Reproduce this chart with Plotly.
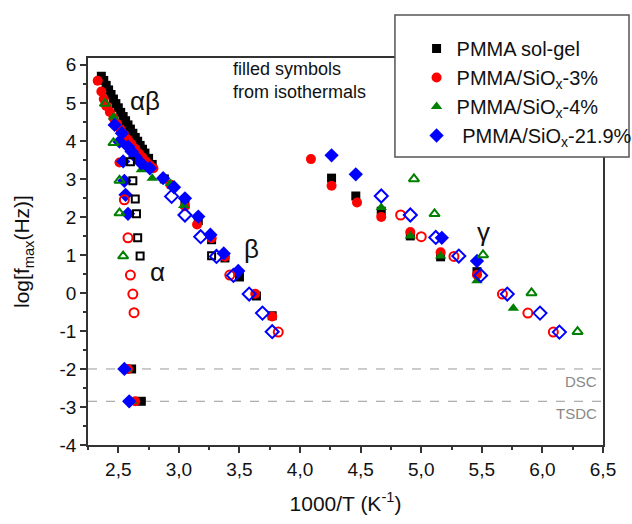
import plotly.graph_objects as go

# ---------------- data ----------------
# PMMA sol-gel (black squares)
blk_f_x = [2.36, 2.38, 2.40, 2.42, 2.44, 2.46, 2.48, 2.50, 2.52, 2.54, 2.56, 2.58, 2.60, 2.62, 2.64,
           2.66, 2.68, 2.70, 2.72, 2.75, 2.78, 2.88, 3.05, 3.16, 3.27, 3.38, 3.50, 3.64, 3.77,
           4.26, 4.46, 4.67, 4.91, 5.16, 5.46, 2.61, 2.69]
blk_f_y = [5.70, 5.59, 5.46, 5.34, 5.22, 5.10, 4.98, 4.87, 4.75, 4.64, 4.53, 4.42, 4.31, 4.20, 4.09,
           3.99, 3.88, 3.78, 3.68, 3.54, 3.38, 3.00, 2.33, 1.90, 1.40, 0.92, 0.42, -0.08, -0.60,
           3.02, 2.55, 2.15, 1.50, 0.95, 0.56, -2.00, -2.85]
blk_o_x = [2.60, 2.62, 2.64, 2.65, 2.66, 2.68, 3.27]
blk_o_y = [3.45, 2.95, 2.47, 2.08, 1.45, 0.97, 0.98]

# PMMA/SiOx-3% (red circles)
red_f_x = [2.33, 2.36, 2.38, 2.40, 2.43, 2.46, 2.49, 2.52, 2.55, 2.58, 2.61, 2.64, 2.67, 2.70, 2.73,
           2.76, 2.79, 2.51, 2.93, 3.05, 3.15, 3.27, 3.38, 3.63, 3.77,
           4.09, 4.26, 4.47, 4.67, 4.91, 5.16, 5.46, 2.58, 2.64]
red_f_y = [5.58, 5.30, 5.10, 4.92, 4.76, 4.60, 4.45, 4.30, 4.16, 4.03, 3.91, 3.79, 3.67, 3.56, 3.45,
           3.36, 3.28, 3.43, 2.85, 2.28, 1.80, 1.44, 0.95, -0.02, -0.62,
           3.52, 2.82, 2.38, 2.00, 1.60, 1.07, 0.48, -2.00, -2.85]
red_o_x = [2.55, 2.58, 2.60, 2.62, 2.63, 3.42, 3.82, 4.83, 5.00, 5.27, 5.67, 5.88, 6.09]
red_o_y = [2.45, 1.45, 0.47, -0.03, -0.52, 0.47, -1.03, 2.05, 1.48, 0.96, -0.03, -0.53, -1.03]

# PMMA/SiOx-4% (green triangles)
grn_f_x = [2.46, 2.53, 2.69, 2.78, 2.93, 3.04, 4.67, 4.91, 5.16, 5.46, 5.76, 2.57, 2.61]
grn_f_y = [4.63, 4.25, 3.24, 3.02, 2.88, 2.30, 2.25, 1.50, 0.97, 0.32, -0.40, -2.00, -2.85]
grn_o_x = [2.39, 2.46, 2.51, 2.51, 2.54, 4.94, 5.11, 5.51, 5.91, 6.29]
grn_o_y = [4.98, 3.95, 2.96, 2.10, 0.97, 3.00, 2.08, 1.00, 0.00, -1.02]

# PMMA/SiOx-21.9% (blue diamonds)
blu_f_x = [2.47, 2.51, 2.53, 2.58, 2.61, 2.64, 2.69, 2.76, 2.54, 2.55, 2.56, 2.58,
           2.87, 2.96, 3.05, 3.16, 3.26, 3.37, 3.49, 4.26, 4.46, 5.17, 5.46, 2.55, 2.59]
blu_f_y = [4.42, 3.98, 4.20, 3.85, 3.72, 3.59, 3.41, 3.28, 3.46, 2.95, 2.58, 2.08,
           3.02, 2.78, 2.49, 2.01, 1.53, 1.04, 0.58, 3.62, 3.12, 1.45, 0.84, -2.00, -2.85]
blu_o_x = [2.94, 3.05, 3.18, 3.31, 3.45, 3.58, 3.69, 3.77, 4.67, 4.91, 5.12, 5.31, 5.49, 5.71, 5.98, 6.14]
blu_o_y = [2.54, 2.05, 1.48, 0.96, 0.46, -0.03, -0.53, -1.02, 2.55, 2.05, 1.46, 0.97, 0.46, -0.03, -0.53, -1.03]

names = ["PMMA sol-gel", "PMMA/SiO<sub>x</sub>-3%", "PMMA/SiO<sub>x</sub>-4%", " PMMA/SiO<sub>x</sub>-21.9%"]

# reference lines and axis ticks
ref_levels = [-2.0, -2.85]
ref_labels = ["DSC", "TSDC"]
x_ticks = [2.5, 3.0, 3.5, 4.0, 4.5, 5.0, 5.5, 6.0, 6.5]
x_ticktext = ["2,5", "3,0", "3,5", "4,0", "4,5", "5,0", "5,5", "6,0", "6,5"]
y_ticks = [-4, -3, -2, -1, 0, 1, 2, 3, 4, 5, 6]
y_ticktext = ["-4", "-3", "-2", "-1", "0", "1", "2", "3", "4", "5", "6"]

# ---------------- figure ----------------
BLACK, RED, GREEN, BLUE = "#000000", "#ff0000", "#008000", "#0000ff"
FONT = "Liberation Sans, Arial, sans-serif"
TXT = "#111111"

fig = go.Figure()

filled = [
    (blk_f_x, blk_f_y, "square", BLACK, 9, names[0]),
    (red_f_x, red_f_y, "circle", RED, 10, names[1]),
    (grn_f_x, grn_f_y, "triangle-up", GREEN, 10, names[2]),
    (blu_f_x, blu_f_y, "diamond", BLUE, 11, names[3]),
]
for x, y, sym, col, sz, nm in filled:
    fig.add_trace(go.Scatter(x=x, y=y, mode="markers", name=nm, legendgroup=nm,
                             marker=dict(symbol=sym, color=col, size=sz, line=dict(width=0))))

opened = [
    (blk_o_x, blk_o_y, "square-open", BLACK, 7, names[0]),
    (red_o_x, red_o_y, "circle-open", RED, 9, names[1]),
    (grn_o_x, grn_o_y, "triangle-up-open", GREEN, 9, names[2]),
    (blu_o_x, blu_o_y, "diamond-open", BLUE, 10, names[3]),
]
for x, y, sym, col, sz, nm in opened:
    fig.add_trace(go.Scatter(x=x, y=y, mode="markers", name=nm, legendgroup=nm, showlegend=False,
                             marker=dict(symbol=sym, color=col, size=sz, line=dict(width=2, color=col))))

# dashed reference lines
for lv, lb in zip(ref_levels, ref_labels):
    fig.add_shape(type="line", xref="paper", x0=0, x1=1, yref="y", y0=lv, y1=lv,
                  line=dict(color="#999999", width=1, dash="dash"), layer="below")
    fig.add_annotation(x=6.47, y=lv - 0.32, text=lb, showarrow=False, xanchor="right",
                       font=dict(family=FONT, size=15, color="#888888"))

# legend frame
fig.add_shape(type="rect", xref="paper", yref="paper", x0=0.596, x1=1.0505, y0=0.744, y1=1.111,
              line=dict(color="#555555", width=1.5), fillcolor="white", layer="above")

# text labels
fig.add_annotation(x=2.72, y=5.05, text="αβ", showarrow=False, font=dict(family=FONT, size=26, color=TXT))
fig.add_annotation(x=2.82, y=0.55, text="α", showarrow=False, font=dict(family=FONT, size=26, color=TXT))
fig.add_annotation(x=3.6, y=1.15, text="β", showarrow=False, font=dict(family=FONT, size=26, color=TXT))
fig.add_annotation(x=5.51, y=1.6, text="γ", showarrow=False, font=dict(family=FONT, size=26, color=TXT))
fig.add_annotation(x=3.43, y=5.58, text="filled symbols<br>from isothermals", showarrow=False,
                   xanchor="left", align="left", font=dict(family=FONT, size=18, color=TXT))

fig.update_layout(
    width=632, height=524,
    margin=dict(l=88, r=29, t=58, b=79, autoexpand=False),
    paper_bgcolor="white", plot_bgcolor="white",
    font=dict(family=FONT, size=19, color=TXT),
    showlegend=True,
    legend=dict(x=0.638, y=1.075, xanchor="left", yanchor="top", bgcolor="rgba(0,0,0,0)",
                borderwidth=0, font=dict(family=FONT, size=20, color=TXT), tracegroupgap=0),
    xaxis=dict(range=[2.25, 6.5], showline=True, linecolor="#333", linewidth=1.5, mirror=True,
               showgrid=False, zeroline=False, ticks="outside", ticklen=6, tickwidth=1.5, tickcolor="#333",
               tickmode="array", tickvals=x_ticks, ticktext=x_ticktext, automargin=False,
               minor=dict(tick0=2.25, dtick=0.25, ticks="outside", ticklen=3, tickcolor="#333", showgrid=False),
               title=dict(text="1000/T (K<sup>-1</sup>)", font=dict(family=FONT, size=21), standoff=18),
               tickfont=dict(family=FONT, size=19)),
    yaxis=dict(range=[-4, 6.18], showline=True, linecolor="#333", linewidth=1.5, mirror=True,
               showgrid=False, zeroline=False, ticks="outside", ticklen=6, tickwidth=1.5, tickcolor="#333",
               tickmode="array", tickvals=y_ticks, ticktext=y_ticktext, automargin=False,
               minor=dict(tick0=-4, dtick=0.5, ticks="outside", ticklen=3, tickcolor="#333", showgrid=False),
               title=dict(text="log[f<sub>max</sub>(Hz)]", font=dict(family=FONT, size=21), standoff=24),
               tickfont=dict(family=FONT, size=19)),
)

fig.write_html("out.html", config={"displayModeBar": False},
               post_script="document.body.style.margin='0px';")
